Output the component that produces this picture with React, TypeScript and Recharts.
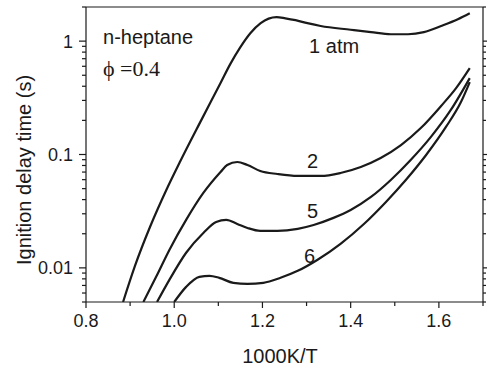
import React from 'react';
import { LineChart, Line, XAxis, YAxis, ReferenceDot } from 'recharts';

// ignition delay (s) vs 1000K/T
const atm1 = [
  { x: 0.884, y: 0.005 }, { x: 0.911, y: 0.0104 }, { x: 0.946, y: 0.0234 },
  { x: 0.98, y: 0.0467 }, { x: 1.014, y: 0.0876 }, { x: 1.059, y: 0.193 },
  { x: 1.105, y: 0.427 }, { x: 1.127, y: 0.627 }, { x: 1.15, y: 0.886 },
  { x: 1.173, y: 1.18 }, { x: 1.196, y: 1.44 }, { x: 1.214, y: 1.58 },
  { x: 1.232, y: 1.63 }, { x: 1.252, y: 1.59 }, { x: 1.275, y: 1.53 },
  { x: 1.302, y: 1.44 }, { x: 1.332, y: 1.36 }, { x: 1.4, y: 1.26 },
  { x: 1.446, y: 1.2 }, { x: 1.491, y: 1.15 }, { x: 1.53, y: 1.15 },
  { x: 1.566, y: 1.2 }, { x: 1.605, y: 1.36 }, { x: 1.643, y: 1.56 },
  { x: 1.67, y: 1.76 },
];
const atm2 = [
  { x: 0.93, y: 0.005 }, { x: 0.959, y: 0.00834 }, { x: 0.989, y: 0.0144 },
  { x: 1.027, y: 0.0265 }, { x: 1.066, y: 0.0458 }, { x: 1.105, y: 0.0701 },
  { x: 1.12, y: 0.0808 }, { x: 1.143, y: 0.0859 }, { x: 1.166, y: 0.0808 },
  { x: 1.195, y: 0.0716 }, { x: 1.234, y: 0.0673 }, { x: 1.28, y: 0.0647 },
  { x: 1.332, y: 0.0647 }, { x: 1.377, y: 0.0687 }, { x: 1.423, y: 0.0776 },
  { x: 1.468, y: 0.0931 }, { x: 1.514, y: 0.121 }, { x: 1.559, y: 0.171 },
  { x: 1.605, y: 0.268 }, { x: 1.639, y: 0.385 }, { x: 1.67, y: 0.578 },
];
const atm5 = [
  { x: 0.961, y: 0.005 }, { x: 0.989, y: 0.00784 }, { x: 1.027, y: 0.0136 },
  { x: 1.066, y: 0.0203 }, { x: 1.095, y: 0.0254 }, { x: 1.118, y: 0.0265 },
  { x: 1.143, y: 0.0244 }, { x: 1.166, y: 0.0225 }, { x: 1.195, y: 0.0212 },
  { x: 1.234, y: 0.0212 }, { x: 1.28, y: 0.0221 }, { x: 1.316, y: 0.0239 },
  { x: 1.361, y: 0.0276 }, { x: 1.4, y: 0.0324 }, { x: 1.446, y: 0.0422 },
  { x: 1.491, y: 0.0596 }, { x: 1.536, y: 0.0894 }, { x: 1.582, y: 0.143 },
  { x: 1.627, y: 0.247 }, { x: 1.67, y: 0.472 },
];
const atm6 = [
  { x: 1.0, y: 0.005 }, { x: 1.027, y: 0.0068 }, { x: 1.057, y: 0.00834 },
  { x: 1.08, y: 0.00851 }, { x: 1.102, y: 0.00817 }, { x: 1.134, y: 0.00738 },
  { x: 1.166, y: 0.00723 }, { x: 1.202, y: 0.00738 }, { x: 1.241, y: 0.00817 },
  { x: 1.28, y: 0.00941 }, { x: 1.325, y: 0.0118 }, { x: 1.377, y: 0.0163 },
  { x: 1.43, y: 0.0244 }, { x: 1.48, y: 0.0382 }, { x: 1.525, y: 0.0596 },
  { x: 1.571, y: 0.099 }, { x: 1.616, y: 0.175 }, { x: 1.65, y: 0.29 },
  { x: 1.67, y: 0.435 },
];

const xMajor = [0.8, 1.0, 1.2, 1.4, 1.6];
const xMinor = [0.9, 1.1, 1.3, 1.5, 1.7];
const xTickLabels = ['0.8', '1.0', '1.2', '1.4', '1.6'];
const yMajor = [0.01, 0.1, 1];
const yMinor = [
  0.005, 0.006, 0.007, 0.008, 0.009,
  0.02, 0.03, 0.04, 0.05, 0.06, 0.07, 0.08, 0.09,
  0.2, 0.3, 0.4, 0.5, 0.6, 0.7, 0.8, 0.9, 2,
];
const yTickLabels = ['0.01', '0.1', '1'];

const curveLabels = [
  { text: '1 atm', x: 1.3625, y: 0.913 },
  { text: '2', x: 1.3136, y: 0.0885 },
  { text: '5', x: 1.3136, y: 0.0321 },
  { text: '6', x: 1.3068, y: 0.0129 },
];
const notes = [
  { text: 'n-heptane', x: 0.8386, y: 1.095, serif: false },
  { text: 'ϕ =0.4', x: 0.8386, y: 0.573, serif: true },
];

const INK = '#1a1a1a';
const SANS = '"Liberation Sans", Arial, Helvetica, sans-serif';
const SERIF = '"Liberation Serif", "Times New Roman", serif';

const xTicks = [...xMajor, ...xMinor].sort((a, b) => a - b);
const yTicks = [...yMajor, ...yMinor].sort((a, b) => a - b);

const BottomTick = ({ x, y, payload }: any) => {
  const i = xMajor.indexOf(payload.value);
  return (
    <g>
      <line x1={x} x2={x} y1={y} y2={y + (i >= 0 ? 6 : 4)} stroke={INK} strokeWidth={1.2} />
      {i >= 0 && (
        <text x={x} y={y + 25} textAnchor="middle" fontSize={18} fontFamily={SANS} fill={INK}>
          {xTickLabels[i]}
        </text>
      )}
    </g>
  );
};

const TopTick = ({ x, y, payload }: any) => {
  const major = xMajor.includes(payload.value);
  return <line x1={x} x2={x} y1={y} y2={y - (major ? 5 : 3)} stroke={INK} strokeWidth={1.2} />;
};

const LeftTick = ({ x, y, payload }: any) => {
  const i = yMajor.indexOf(payload.value);
  return (
    <g>
      <line x1={x - (i >= 0 ? 7 : 4)} x2={x} y1={y} y2={y} stroke={INK} strokeWidth={1.2} />
      {i >= 0 && (
        <text x={x - 13} y={y} dy="0.36em" textAnchor="end" fontSize={18} fontFamily={SANS} fill={INK}>
          {yTickLabels[i]}
        </text>
      )}
    </g>
  );
};

const RightTick = ({ x, y, payload }: any) => {
  const major = yMajor.includes(payload.value);
  return <line x1={x} x2={x + (major ? 4 : 3)} y1={y} y2={y} stroke={INK} strokeWidth={1.2} />;
};

const textAt = (text: string, anchor: 'start' | 'middle', font: string, size: number) =>
  (p: any) => (
    <text x={p.viewBox.x} y={p.viewBox.y} dy="0.36em" textAnchor={anchor}
      fontSize={size} fontFamily={font} fill={INK}>
      {text}
    </text>
  );

export default function App() {
  const curves = [atm1, atm2, atm5, atm6];
  return (
    <div style={{ position: 'absolute', left: 0, top: 0, background: '#fff' }}>
      <LineChart width={487} height={369} margin={{ top: 0, right: 0, bottom: 0, left: 0 }}>
        <XAxis
          dataKey="x" type="number" domain={[0.8, 1.7]} allowDataOverflow
          ticks={xTicks} interval={0} height={67}
          tickSize={0} tickMargin={0} tickLine={false} tick={<BottomTick />}
          axisLine={{ stroke: INK, strokeWidth: 1.2 }}
          label={(p: any) => (
            <text x={p.viewBox.x + 194} y={p.viewBox.y + 61} textAnchor="middle"
              fontSize={20} fontFamily={SANS} fill={INK}>1000K/T</text>
          )}
        />
        <XAxis
          xAxisId="top" orientation="top" type="number" domain={[0.8, 1.7]} allowDataOverflow
          ticks={xTicks} interval={0} height={7}
          tickSize={0} tickMargin={0} tickLine={false} tick={<TopTick />}
          axisLine={{ stroke: INK, strokeWidth: 1.2 }}
        />
        <YAxis
          type="number" scale="log" domain={[0.005, 2]} allowDataOverflow
          ticks={yTicks} interval={0} width={86}
          tickSize={0} tickMargin={0} tickLine={false} tick={<LeftTick />}
          axisLine={{ stroke: INK, strokeWidth: 1.2 }}
          label={(p: any) => (
            <text x={p.viewBox.x + 24} y={p.viewBox.y + 163} textAnchor="middle" dy="0.36em"
              transform={`rotate(-90 ${p.viewBox.x + 24} ${p.viewBox.y + 163})`}
              fontSize={20} fontFamily={SANS} fill={INK}>Ignition delay time (s)</text>
          )}
        />
        <YAxis
          yAxisId="right" orientation="right" type="number" scale="log" domain={[0.005, 2]} allowDataOverflow
          ticks={yTicks} interval={0} width={4}
          tickSize={0} tickMargin={0} tickLine={false} tick={<RightTick />}
          axisLine={{ stroke: INK, strokeWidth: 1.2 }}
        />
        {curves.map((d, i) => (
          <Line
            key={i}
            data={d}
            dataKey="y"
            type="monotone"
            stroke={INK}
            strokeWidth={2.2}
            dot={false}
            activeDot={false}
            isAnimationActive={false}
          />
        ))}
        {curveLabels.map((l) => (
          <ReferenceDot key={l.text} x={l.x} y={l.y} r={0} fill="none" stroke="none"
            ifOverflow="visible" label={textAt(l.text, 'middle', SANS, 20)} />
        ))}
        {notes.map((n) => (
          <ReferenceDot key={n.text} x={n.x} y={n.y} r={0} fill="none" stroke="none"
            ifOverflow="visible"
            label={textAt(n.text, 'start', n.serif ? SERIF : SANS, n.serif ? 22 : 20)} />
        ))}
      </LineChart>
    </div>
  );
}
